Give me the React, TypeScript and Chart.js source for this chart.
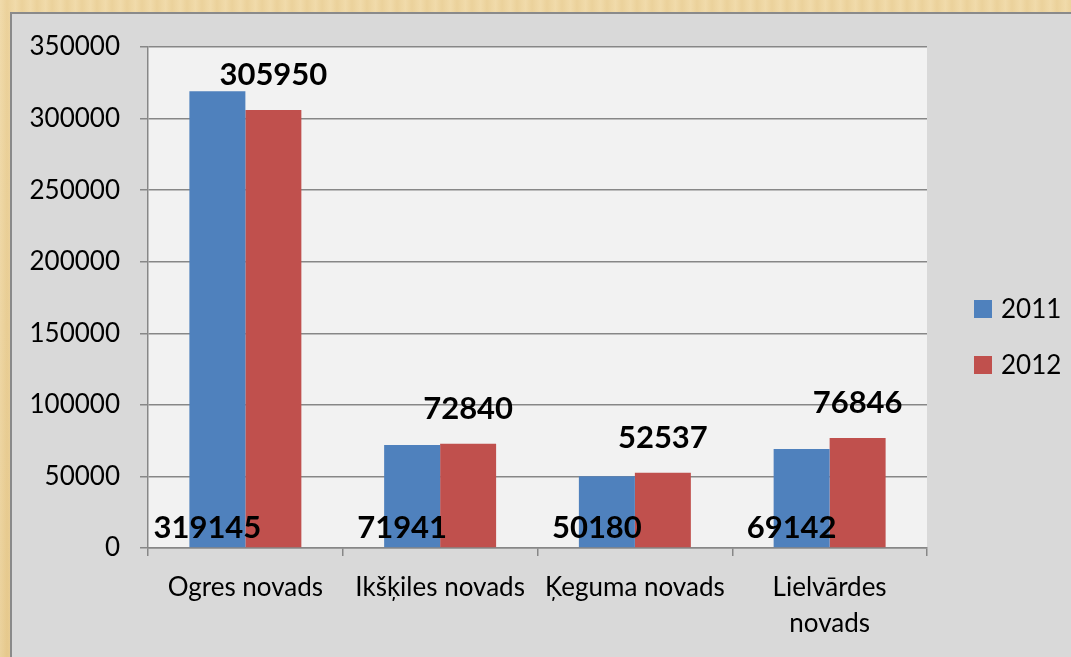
import React, { useEffect, useRef } from 'react';
import { Chart, registerables } from 'chart.js';

Chart.register(...registerables);

const categories = ['Ogres novads', 'Ikšķiles novads', 'Ķeguma novads', 'Lielvārdes novads'];
const series2011 = [319145, 71941, 50180, 69142];
const series2012 = [305950, 72840, 52537, 76846];
const seriesNames = ['2011', '2012'];
const seriesColors = ['#4F81BD', '#C0504D'];
const yMin = 0;
const yMax = 350000;
const yStep = 50000;

const FONT = 'Lato, "Open Sans", "DejaVu Sans", sans-serif';

const plotBgPlugin = {
  id: 'plotBg',
  beforeDraw(chart: any) {
    const { ctx, chartArea } = chart;
    ctx.save();
    ctx.fillStyle = '#f2f2f2';
    ctx.fillRect(chartArea.left, chartArea.top, chartArea.right - chartArea.left, chartArea.bottom - chartArea.top);
    ctx.restore();
  },
};

const dataLabelPlugin = {
  id: 'dataLabels',
  afterDatasetsDraw(chart: any) {
    const { ctx } = chart;
    const base = chart.scales.y.getPixelForValue(0);
    ctx.save();
    ctx.font = `bold 31px ${FONT}`;
    ctx.fillStyle = '#000';
    ctx.textAlign = 'center';
    ctx.textBaseline = 'middle';
    chart.data.datasets.forEach((ds: any, di: number) => {
      const meta = chart.getDatasetMeta(di);
      meta.data.forEach((bar: any, i: number) => {
        const text = String(ds.data[i]);
        if (di === 0) {
          ctx.fillText(text, bar.x - 10, base - 20);
        } else {
          ctx.fillText(text, bar.x, bar.y - 35);
        }
      });
    });
    ctx.restore();
  },
};

const legendPlugin = {
  id: 'sideLegend',
  afterDraw(chart: any) {
    const { ctx, chartArea } = chart;
    ctx.save();
    ctx.font = `26px ${FONT}`;
    ctx.textAlign = 'left';
    ctx.textBaseline = 'middle';
    const x0 = chartArea.right + 47;
    const y0 = 286;
    chart.data.datasets.forEach((ds: any, i: number) => {
      const y = y0 + i * 56;
      ctx.fillStyle = ds.backgroundColor;
      ctx.fillRect(x0, y, 18, 18);
      ctx.fillStyle = '#000';
      ctx.fillText(ds.label, x0 + 27, y + 10);
    });
    ctx.restore();
  },
};

export default function App() {
  const canvasRef = useRef<HTMLCanvasElement | null>(null);

  useEffect(() => {
    document.body.style.margin = '0';
    const canvas = canvasRef.current;
    if (!canvas) return;
    const labels = categories.map((c) => (c === 'Lielvārdes novads' ? c.split(' ') : c));
    const chart = new Chart(canvas, {
      type: 'bar',
      data: {
        labels,
        datasets: [
          { label: seriesNames[0], data: series2011, backgroundColor: seriesColors[0], borderWidth: 0 },
          { label: seriesNames[1], data: series2012, backgroundColor: seriesColors[1], borderWidth: 0 },
        ],
      },
      options: {
        animation: false,
        responsive: false,
        maintainAspectRatio: false,
        devicePixelRatio: 1,
        layout: { padding: { top: 33, right: 144, left: 0, bottom: 0 } },
        datasets: { bar: { barPercentage: 1, categoryPercentage: 0.575 } },
        plugins: {
          legend: { display: false },
          tooltip: { enabled: false },
        },
        scales: {
          x: {
            grid: {
              display: true,
              drawOnChartArea: false,
              drawTicks: true,
              tickLength: 8,
              offset: true,
              color: '#878787',
              lineWidth: 1.5,
            },
            border: { display: true, color: '#878787', width: 1.5 },
            ticks: {
              color: '#000',
              font: { family: FONT, size: 26, lineHeight: 1.4 },
              padding: 13,
              autoSkip: false,
              maxRotation: 0,
              minRotation: 0,
            },
            afterFit(scale: any) {
              scale.height = 109;
              scale.paddingLeft = 0;
              scale.paddingRight = 0;
            },
          },
          y: {
            min: yMin,
            max: yMax,
            ticks: {
              stepSize: yStep,
              color: '#000',
              font: { family: FONT, size: 26 },
              padding: 20,
              callback: (v: any) => String(v),
            },
            grid: {
              color: '#878787',
              lineWidth: 1.5,
              tickLength: 8,
              drawTicks: true,
            },
            border: { display: true, color: '#878787', width: 1.5 },
            afterFit(scale: any) {
              scale.width = 136;
              scale.paddingTop = 0;
              scale.paddingBottom = 0;
            },
          },
        },
      },
      plugins: [plotBgPlugin, dataLabelPlugin, legendPlugin],
    });
    return () => chart.destroy();
  }, []);

  return (
    <div
      style={{
        position: 'relative',
        width: 1071,
        height: 657,
        overflow: 'hidden',
        background:
          'repeating-linear-gradient(90deg, rgba(255,255,255,0.10) 0px, rgba(200,160,90,0.10) 7px, rgba(255,255,255,0.08) 15px), linear-gradient(180deg, #efd7a2, #e9cd92)',
      }}
    >
      <div
        style={{
          position: 'absolute',
          left: 10,
          top: 12,
          width: 1061,
          height: 645,
          boxSizing: 'border-box',
          background: '#d9d9d9',
          borderLeft: '2px solid #8a8a8a',
          borderTop: '2px solid #8a8a8a',
        }}
      >
        <canvas ref={canvasRef} width={1059} height={643} style={{ display: 'block', width: 1059, height: 643 }} />
      </div>
    </div>
  );
}
